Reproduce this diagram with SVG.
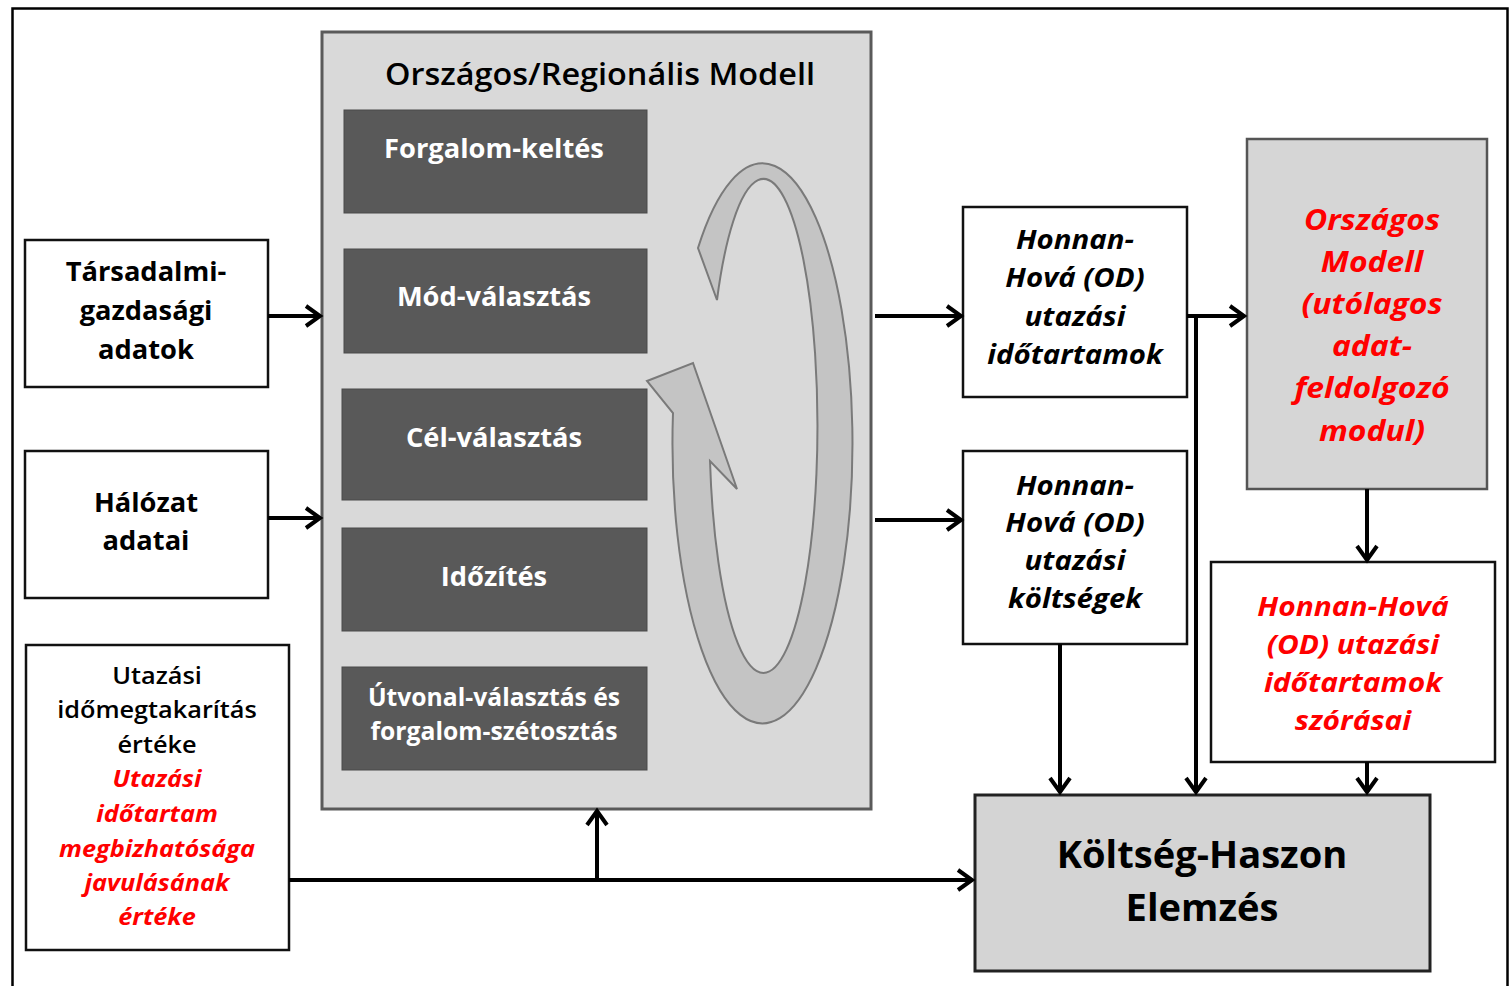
<svg xmlns="http://www.w3.org/2000/svg" width="1511" height="986" viewBox="0 0 1511 986">
<style>
.t{font-family:"Open Sans","Liberation Sans",sans-serif;text-anchor:middle;}
.b{font-weight:bold;}
.i{font-style:italic;font-weight:bold;}
.red{fill:#ff0000;}
.wbox{fill:#ffffff;stroke:#111;stroke-width:2.5;}
.dark{fill:#595959;stroke:#4a4a4a;stroke-width:1;}
.wt{fill:#ffffff;font-weight:bold;font-size:26px;}
.ws{font-size:24.7px;}
.conn{fill:none;stroke:#000;stroke-width:4;}
</style>
<defs>
<marker id="ah" markerUnits="userSpaceOnUse" markerWidth="24" markerHeight="26" refX="17" refY="12" orient="auto">
<path d="M3,2 L17,12 L3,22" fill="none" stroke="#000" stroke-width="4" stroke-linejoin="miter"/>
</marker>
</defs>
<rect x="0" y="0" width="1511" height="986" fill="#fff"/>
<rect x="12.5" y="8.5" width="1495" height="990" fill="#fff" stroke="#000" stroke-width="2.5"/>

<g id="model">
<rect x="322" y="32" width="549" height="777" fill="#d9d9d9" stroke="#5a5a5a" stroke-width="3"/>
<g transform="translate(600,0) scale(1.08,1)"><text class="t" x="0" y="85" font-size="30" font-weight="600" fill="#000">Országos/Regionális Modell</text></g>
<g id="forgalomkeltes"><rect class="dark" x="344" y="110" width="303" height="103"/><g transform="translate(494,0) scale(1.05,1)"><text class="t wt" x="0" y="158">Forgalom-keltés</text></g></g>
<g id="modvalasztas"><rect class="dark" x="344" y="249" width="303" height="104"/><g transform="translate(494,0) scale(1.05,1)"><text class="t wt" x="0" y="306">Mód-választás</text></g></g>
<g id="celvalasztas"><rect class="dark" x="342" y="389" width="305" height="111"/><g transform="translate(494,0) scale(1.05,1)"><text class="t wt" x="0" y="447">Cél-választás</text></g></g>
<g id="idozites"><rect class="dark" x="342" y="528" width="305" height="103"/><g transform="translate(494,0) scale(1.05,1)"><text class="t wt" x="0" y="586">Időzítés</text></g></g>
<g id="utvonal"><rect class="dark" x="342" y="667" width="305" height="103"/><text class="t wt ws" x="494" y="706">Útvonal-választás és</text><text class="t wt ws" x="494" y="740">forgalom-szétosztás</text></g>
<path id="cycle" d="M698,248 A90,280 0 1 1 673,413 L647,381 L693,363 L737,489 L710,461 A54,247 0 1 0 717,300 Z" fill="#c4c4c4" stroke="#7a7a7a" stroke-width="2"/>
</g>

<g id="tarsadalmi">
<rect class="wbox" x="25" y="240" width="243" height="147"/>
<g transform="translate(146,0) scale(1.05,1)">
<text class="t b" x="0" y="281" font-size="26">Társadalmi-</text>
<text class="t b" x="0" y="320" font-size="26">gazdasági</text>
<text class="t b" x="0" y="359" font-size="26">adatok</text>
</g>
</g>
<g id="halozat">
<rect class="wbox" x="25" y="451" width="243" height="147"/>
<g transform="translate(146,0) scale(1.05,1)">
<text class="t b" x="0" y="512" font-size="26">Hálózat</text>
<text class="t b" x="0" y="550" font-size="26">adatai</text>
</g>
</g>
<g id="utazasi">
<rect class="wbox" x="26" y="645" width="263" height="305"/>
<g transform="translate(157,0) scale(1.1,1)">
<text class="t" x="0" y="684" font-size="23" font-weight="600">Utazási</text>
<text class="t" x="0" y="718" font-size="23" font-weight="600">időmegtakarítás</text>
<text class="t" x="0" y="753" font-size="23" font-weight="600">értéke</text>
<text class="t i red" x="0" y="787" font-size="23">Utazási</text>
<text class="t i red" x="0" y="822" font-size="23">időtartam</text>
<text class="t i red" x="0" y="857" font-size="23">megbizhatósága</text>
<text class="t i red" x="0" y="891" font-size="23">javulásának</text>
<text class="t i red" x="0" y="925" font-size="23">értéke</text>
</g>
</g>

<g id="od_ido">
<rect class="wbox" x="963" y="207" width="224" height="190"/>
<g transform="translate(1075,0) scale(1.09,1)">
<text class="t i" x="0" y="249" font-size="27">Honnan-</text>
<text class="t i" x="0" y="287" font-size="27">Hová (OD)</text>
<text class="t i" x="0" y="326" font-size="27">utazási</text>
<text class="t i" x="0" y="364" font-size="27">időtartamok</text>
</g>
</g>
<g id="od_koltseg">
<rect class="wbox" x="963" y="451" width="224" height="193"/>
<g transform="translate(1075,0) scale(1.09,1)">
<text class="t i" x="0" y="495" font-size="27">Honnan-</text>
<text class="t i" x="0" y="532" font-size="27">Hová (OD)</text>
<text class="t i" x="0" y="570" font-size="27">utazási</text>
<text class="t i" x="0" y="608" font-size="27">költségek</text>
</g>
</g>
<g id="orszagos">
<rect x="1247" y="139" width="240" height="350" fill="#d6d6d6" stroke="#555" stroke-width="2.5"/>
<g transform="translate(1372,0) scale(1.1,1)">
<text class="t i red" x="0" y="230" font-size="29">Országos</text>
<text class="t i red" x="0" y="272" font-size="29">Modell</text>
<text class="t i red" x="0" y="314" font-size="29">(utólagos</text>
<text class="t i red" x="0" y="356" font-size="29">adat-</text>
<text class="t i red" x="0" y="398" font-size="29">feldolgozó</text>
<text class="t i red" x="0" y="441" font-size="29">modul)</text>
</g>
</g>
<g id="szorasai">
<rect class="wbox" x="1211" y="562" width="284" height="200"/>
<g transform="translate(1353,0) scale(1.15,1)">
<text class="t i red" x="0" y="616" font-size="26">Honnan-Hová</text>
<text class="t i red" x="0" y="654" font-size="26">(OD) utazási</text>
<text class="t i red" x="0" y="692" font-size="26">időtartamok</text>
<text class="t i red" x="0" y="730" font-size="26">szórásai</text>
</g>
</g>
<g id="kha">
<rect x="975" y="795" width="455" height="176" fill="#d4d4d4" stroke="#222" stroke-width="3"/>
<g transform="translate(1202,0) scale(1.03,1)">
<text class="t b" x="0" y="868" font-size="37">Költség-Haszon</text>
<text class="t b" x="0" y="921" font-size="37">Elemzés</text>
</g>
</g>

<g id="connectors">
<path class="conn" d="M268,316 H320" marker-end="url(#ah)"/>
<path class="conn" d="M268,518 H320" marker-end="url(#ah)"/>
<path class="conn" d="M289,880 H972" marker-end="url(#ah)"/>
<path class="conn" d="M597,880 V811" marker-end="url(#ah)"/>
<path class="conn" d="M875,316 H961" marker-end="url(#ah)"/>
<path class="conn" d="M875,520 H961" marker-end="url(#ah)"/>
<path class="conn" d="M1187,316 H1244" marker-end="url(#ah)"/>
<path class="conn" d="M1196,316 V792" marker-end="url(#ah)"/>
<path class="conn" d="M1060,644 V792" marker-end="url(#ah)"/>
<path class="conn" d="M1367,489 V560" marker-end="url(#ah)"/>
<path class="conn" d="M1367,762 V792" marker-end="url(#ah)"/>
</g>
</svg>
